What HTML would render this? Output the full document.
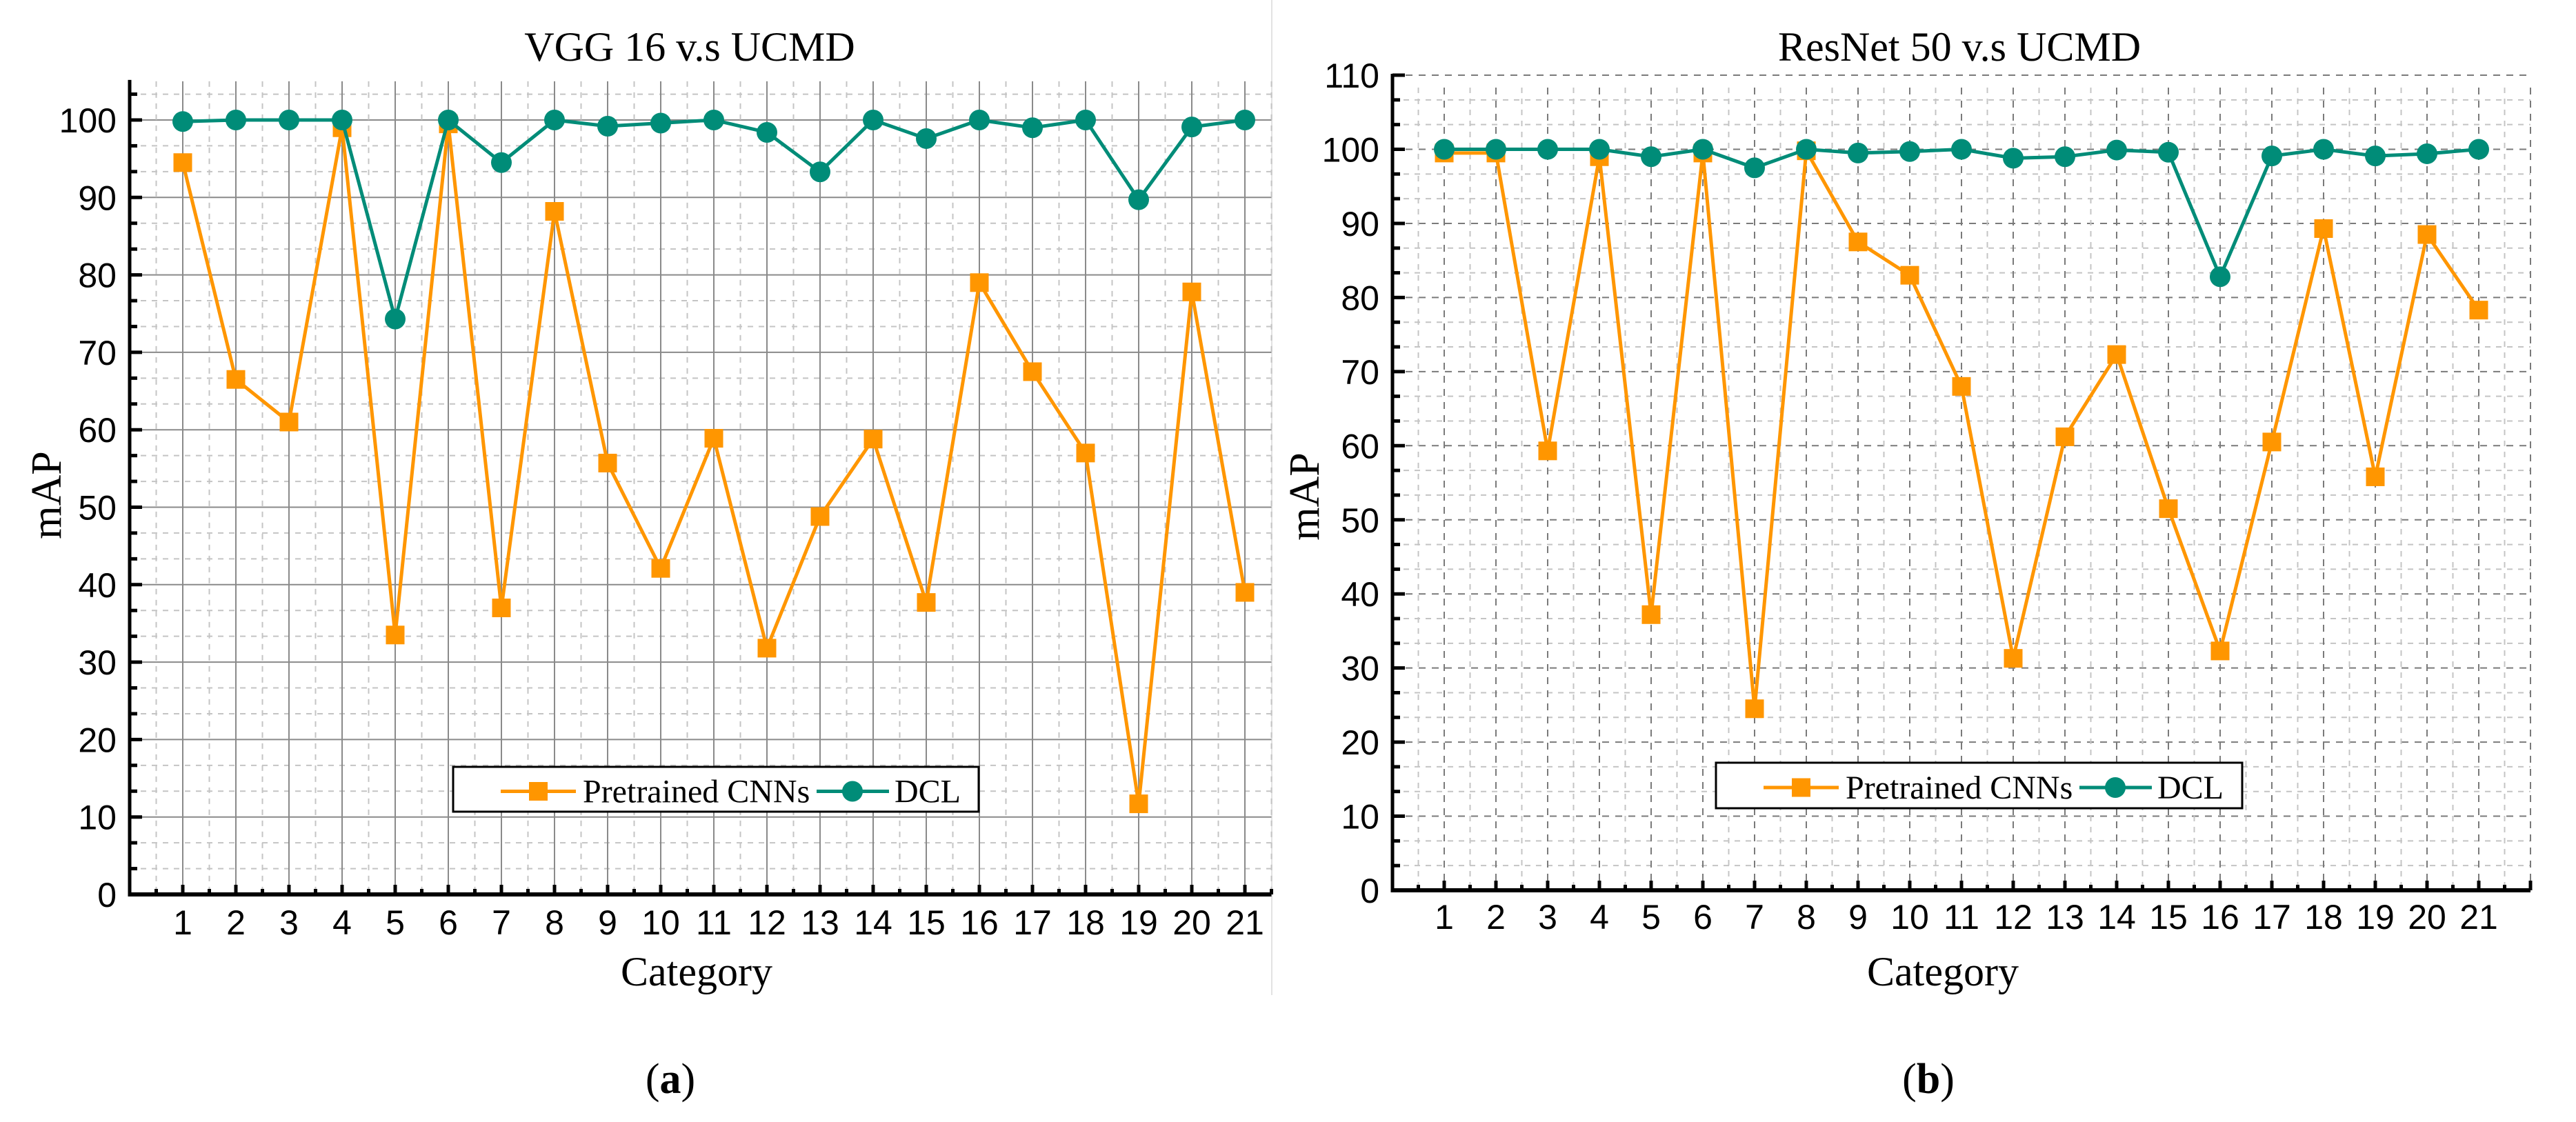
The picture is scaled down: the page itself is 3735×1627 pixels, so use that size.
<!DOCTYPE html>
<html><head><meta charset="utf-8"><style>
html,body{margin:0;padding:0;background:#fff;}
svg{display:block;}
</style></head><body>
<svg id="fig" xmlns="http://www.w3.org/2000/svg" width="3735" height="1627" viewBox="0 0 3735 1627">
<rect x="0" y="0" width="3735" height="1627" fill="#fff"/>
<line x1="1844" y1="0" x2="1844" y2="1443" stroke="#e2e2e2" stroke-width="2"/>
<g id="chartA"></g>
<g id="chartB"></g>
<text x="972" y="1585" font-family="Liberation Serif, serif" font-size="62" text-anchor="middle">(<tspan font-weight="bold">a</tspan>)</text>
<text x="2796" y="1585" font-family="Liberation Serif, serif" font-size="62" text-anchor="middle">(<tspan font-weight="bold">b</tspan>)</text>
</svg>
<script>
const categories = [1,2,3,4,5,6,7,8,9,10,11,12,13,14,15,16,17,18,19,20,21];
const vggPretrained = [94.5,66.5,61,99,33.5,99.5,37,88.2,55.7,42.1,58.9,31.8,48.8,58.8,37.7,79,67.5,57,11.7,77.8,39];
const vggDCL = [99.8,100,100,100,74.3,100,94.5,100,99.2,99.6,100,98.4,93.3,100,97.6,100,99,100,89.7,99.1,100];
const resPretrained = [99.5,99.5,59.3,99,37.2,99.5,24.5,99.8,87.5,83,68,31.3,61.2,72.3,51.5,32.3,60.5,89.3,55.8,88.5,78.3];
const resDCL = [100,100,100,100,99,100,97.5,100,99.5,99.7,100,98.8,99,99.9,99.6,82.8,99.1,100,99.1,99.4,100];
const yTicksA = [0,10,20,30,40,50,60,70,80,90,100];
const yTicksB = [0,10,20,30,40,50,60,70,80,90,100,110];

const NS = "http://www.w3.org/2000/svg";
function mk(parent, tag, attrs){const e=document.createElementNS(NS,tag);for(const k in attrs)e.setAttribute(k,attrs[k]);parent.appendChild(e);return e;}

function drawChart(g, cfg){
  const xs = v => cfg.x0 + (v - 0) * cfg.dx;
  const ys = v => cfg.y0 - v * cfg.dy;
  const right = xs(cfg.xmax), top = ys(cfg.ymax);
  const gridTop = cfg.gridTop !== undefined ? cfg.gridTop : top;
  // minor horizontal grid
  for (let k = 1; k * 10/3 <= cfg.ymax + 0.01; k++) {
    const v = k * 10/3;
    const isMajor = (k % 3 === 0);
    const ln = mk(g,'line',{x1:cfg.x0,x2:right,y1:ys(v),y2:ys(v),stroke:isMajor?cfg.majorColor:'#c4c4c4','stroke-width':2,'stroke-dasharray':isMajor?cfg.majorDash:'8 8'});
    
    
    const tk = mk(g,'line',{x1:cfg.x0,x2:cfg.x0+(isMajor?18:11),y1:ys(v),y2:ys(v),stroke:'#000','stroke-width':5});
    
    
  }
  // vertical grid
  for (let h = 0.5; h <= cfg.xmax + 0.01; h += 0.5) {
    const isMajor = Number.isInteger(h);
    const ln = mk(g,'line',{x1:xs(h),x2:xs(h),y1:gridTop,y2:cfg.y0,stroke:isMajor?cfg.majorColor:'#c4c4c4','stroke-width':2,'stroke-dasharray':isMajor?cfg.majorDash:'8 8'});
    
    
    const tk = mk(g,'line',{x1:xs(h),x2:xs(h),y1:cfg.y0,y2:cfg.y0-(isMajor?14:8),stroke:'#000','stroke-width':5});
    
    
  }
  // axes
  const ax = mk(g,'line',{x1:cfg.x0,x2:cfg.x0,y1:top-2,y2:cfg.y0+3,stroke:'#000','stroke-width':5});
  
  
  const bx = mk(g,'line',{x1:cfg.x0-2,x2:right,y1:cfg.y0,y2:cfg.y0,stroke:'#000','stroke-width':6});
  
  
  // y tick labels
  cfg.yTicks.forEach(v => {
    const t = mk(g,'text',{x:cfg.x0-19,y:ys(v)+18,'text-anchor':'end','font-family':'Liberation Sans, sans-serif','font-size':50});
    t.textContent = v;
    
    
  });
  categories.forEach(c => {
    const t = mk(g,'text',{x:xs(c),y:cfg.xLabelY,'text-anchor':'middle','font-family':'Liberation Sans, sans-serif','font-size':50});
    t.textContent = c;
    
    
  });
  // titles
  const ti = mk(g,'text',{x:cfg.titleX,y:88,'text-anchor':'middle','font-family':'Liberation Serif, serif','font-size':60});
  ti.textContent = cfg.title;
  
  
  const xt = mk(g,'text',{x:cfg.catX,y:1429,'text-anchor':'middle','font-family':'Liberation Serif, serif','font-size':60});
  xt.textContent = 'Category';
  
  
  const yt = mk(g,'text',{x:0,y:0,'text-anchor':'middle','font-family':'Liberation Serif, serif','font-size':62,transform:`translate(${cfg.mapX},${cfg.mapY}) rotate(-90)`});
  yt.textContent = 'mAP';
  
  
  // series
  const orange = '#FF9600', teal = '#008C78';
  const pPts = cfg.pre.map((v,i)=>xs(categories[i])+','+ys(v)).join(' ');
  const dPts = cfg.dcl.map((v,i)=>xs(categories[i])+','+ys(v)).join(' ');
  const pl = mk(g,'polyline',{points:pPts,fill:'none',stroke:orange,'stroke-width':5,'stroke-linejoin':'miter'});
  
  
  cfg.pre.forEach((v,i)=>{
    const r = mk(g,'rect',{x:xs(categories[i])-13.5,y:ys(v)-13.5,width:27,height:27,fill:orange});
    
    
  });
  const dl = mk(g,'polyline',{points:dPts,fill:'none',stroke:teal,'stroke-width':5});
  
  
  cfg.dcl.forEach((v,i)=>{
    const c = mk(g,'circle',{cx:xs(categories[i]),cy:ys(v),r:15,fill:teal});
    
    
  });
  // legend
  const L = cfg.leg;
  const lg = mk(g,'g',{});
  
  
  mk(lg,'rect',{x:L.x,y:L.y,width:L.w,height:L.h,fill:'#fff',stroke:'#000','stroke-width':3});
  const cy = L.y + L.h/2 + 3;
  mk(lg,'line',{x1:L.x+69,x2:L.x+178,y1:cy,y2:cy,stroke:orange,'stroke-width':5});
  mk(lg,'rect',{x:L.x+110,y:cy-13.5,width:27,height:27,fill:orange});
  const t1 = mk(lg,'text',{x:L.x+188,y:cy+16,'font-family':'Liberation Serif, serif','font-size':48});
  t1.textContent = 'Pretrained CNNs';
  
  
  mk(lg,'line',{x1:L.x+527,x2:L.x+632,y1:cy,y2:cy,stroke:teal,'stroke-width':5});
  mk(lg,'circle',{cx:L.x+579,cy:cy,r:15,fill:teal});
  const t2 = mk(lg,'text',{x:L.x+640,y:cy+16,'font-family':'Liberation Serif, serif','font-size':48});
  t2.textContent = 'DCL';
  
  
}

drawChart(document.getElementById('chartA'), {
  x0:188, dx:77, xmax:21.5, y0:1297, dy:11.23, ymax:105,
  majorColor:'#8a8a8a', majorDash:'none', yTicks:yTicksA, xLabelY:1355,
  title:'VGG 16 v.s UCMD', titleX:1000, catX:1010, mapX:88, mapY:718,
  pre:vggPretrained, dcl:vggDCL,
  leg:{x:657,y:1112,w:762,h:65}
});
drawChart(document.getElementById('chartB'), {
  x0:2019, dx:75, xmax:22, y0:1291, dy:10.745, ymax:110, gridTop:127,
  majorColor:'#7a7a7a', majorDash:'10 9', yTicks:yTicksB, xLabelY:1347,
  title:'ResNet 50 v.s UCMD', titleX:2841, catX:2817, mapX:1912, mapY:720,
  pre:resPretrained, dcl:resDCL,
  leg:{x:2488,y:1106,w:763,h:66}
});
</script>
</body></html>
